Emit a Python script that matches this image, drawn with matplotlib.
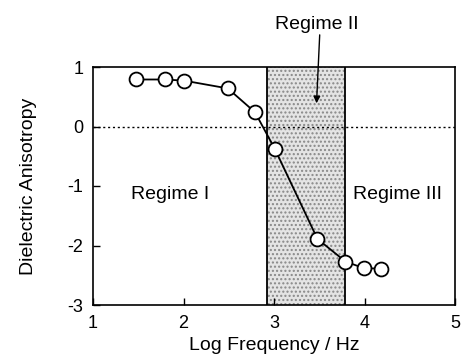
import numpy as np
import matplotlib.pyplot as plt

plt.rcParams['font.family'] = ['Liberation Sans', 'DejaVu Sans']
plt.rcParams['axes.unicode_minus'] = False

# --- data ---
log_freq = [1.48, 1.80, 2.01, 2.49, 2.79, 3.01, 3.48, 3.79, 3.99, 4.18]
anisotropy = [0.79, 0.79, 0.77, 0.64, 0.24, -0.38, -1.89, -2.27, -2.38, -2.39]
regime2_lo, regime2_hi = 2.92, 3.78
x_ticks = [1, 2, 3, 4, 5]
y_ticks = [-3, -2, -1, 0, 1]

fig = plt.figure(figsize=(4.61, 3.6), dpi=100)
ax = fig.add_axes([93 / 461, 55 / 360, 362 / 461, 238 / 360])

# shaded Regime II band
ax.axvspan(regime2_lo, regime2_hi, facecolor='#e4e4e4', edgecolor='#888888',
           hatch='....', linewidth=0, zorder=1)
ax.axvline(regime2_lo, color='black', lw=1.3, zorder=2)
ax.axvline(regime2_hi, color='black', lw=1.3, zorder=2)

ax.axhline(0, color='black', lw=1.0, ls=(0, (1.5, 2)), zorder=2)

ax.plot(log_freq, anisotropy, '-o', color='black', lw=1.3, ms=10,
        markerfacecolor='white', markeredgecolor='black', markeredgewidth=1.3,
        zorder=3)

ax.set_xlim(1, 5)
ax.set_ylim(-3, 1)
ax.set_xticks(x_ticks)
ax.set_yticks(y_ticks)
ax.tick_params(direction='in', length=5, width=1, labelsize=13, pad=7)
for s in ax.spines.values():
    s.set_linewidth(1.2)

ax.set_xlabel('Log Frequency / Hz', fontsize=14, labelpad=4)
ax.set_ylabel('Dielectric Anisotropy', fontsize=14, labelpad=22)

ax.text(1.85, -1.15, 'Regime I', fontsize=14, ha='center', va='center')
ax.text(4.37, -1.15, 'Regime III', fontsize=14, ha='center', va='center')
ax.text(3.47, 1.72, 'Regime II', fontsize=14, ha='center', va='center',
        clip_on=False)
ax.annotate('', xy=(3.47, 0.39), xytext=(3.505, 1.54),
            annotation_clip=False,
            arrowprops=dict(arrowstyle='-|>', color='black', lw=1.0,
                            shrinkA=0, shrinkB=0, mutation_scale=10))

fig.savefig('out.png', dpi=100)
